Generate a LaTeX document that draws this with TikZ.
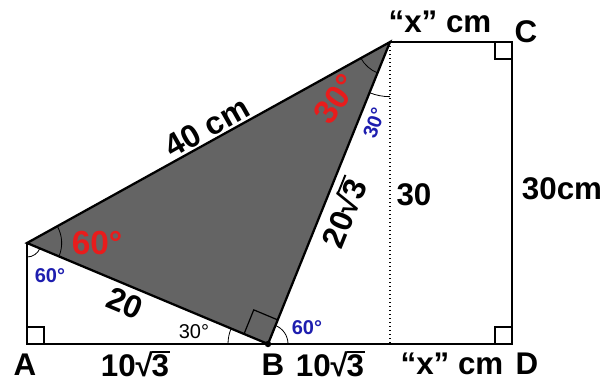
\documentclass[tikz,border=0pt]{standalone}
\usepackage{fontspec}
\setmainfont{Liberation Sans}
\usetikzlibrary{calc,angles}
\definecolor{trig}{RGB}{100,100,100}
\definecolor{lblred}{RGB}{232,28,28}
\definecolor{lblblue}{RGB}{30,30,175}
\newcommand{\sqthree}{√\kern-0.04em\rlap{\rule[0.74em]{0.6em}{0.06em}}3}
\begin{document}
\begin{tikzpicture}[x=0.75pt,y=-0.75pt,
  edge/.style={line width=1.7pt, line join=miter},
  marker/.style={line width=0.9pt},
  arcmark/.style={draw, line width=0.6pt},
  biglbl/.style={font=\bfseries\fontsize{23.5}{23.5}\selectfont, inner sep=0pt},
  rotlbl/.style={font=\bfseries\fontsize{24}{24}\selectfont, inner sep=0pt},
  redlbl/.style={font=\bfseries\fontsize{25}{25}\selectfont, text=lblred, inner sep=0pt},
  bluelbl/.style={font=\bfseries\fontsize{15}{15}\selectfont, text=lblblue, inner sep=0pt},
  smalllbl/.style={font=\fontsize{15}{15}\selectfont, inner sep=0pt}]
\useasboundingbox (0,0) rectangle (604,380);
\coordinate (A) at (27,344);
\coordinate (P) at (27,243);
\coordinate (T) at (390,42);
\coordinate (B) at (268,344);
\coordinate (C) at (512,42);
\coordinate (D) at (512,344);
\coordinate (F) at (390,344);
% shaded triangle
\fill[trig] (P) -- (T) -- (B) -- cycle;
% dotted height
\draw[dotted, line width=1pt] (T) -- (F);
% outline
\draw[edge] (P) -- (A) -- (D) -- (C) -- (T);
\draw[edge] (P) -- (T) -- (B) -- cycle;
% right angle markers
\draw[marker] ($(A)+(0,-17)$) -- ++(17,0) -- ++(0,17);
\draw[marker] ($(C)+(-17,0)$) -- ++(0,17) -- ++(17,0);
\draw[marker] ($(D)+(-17,0)$) -- ++(0,-17) -- ++(17,0);
\coordinate (bp) at ($(B)!19.5pt!(P)$);
\coordinate (bt) at ($(B)!19.5pt!(T)$);
\draw[marker] (bp) -- ($(bp)+(bt)-(B)$) -- (bt);
% angle arcs
\pic[arcmark, angle radius=26pt] {angle = B--P--T};
\pic[arcmark, angle radius=10.5pt] {angle = A--P--B};
\pic[arcmark, angle radius=25pt] {angle = P--T--B};
\pic[arcmark, angle radius=41pt] {angle = B--T--F};
\pic[arcmark, angle radius=30pt] {angle = P--B--A};
\pic[arcmark, angle radius=15pt] {angle = D--B--T};
\fill (B) circle[radius=2.4pt];
% labels
\node[biglbl] (xtop) at (440,22) {“x” cm};
\node[biglbl] (lc) at (526,32) {C};
\node[biglbl] (l30) at (414,195) {30};
\node[biglbl] (l30cm) at (562,189) {30cm};
\node[biglbl] (la) at (25,365) {A};
\node[biglbl] (lab) at (135,364) {10\sqthree};
\node[biglbl] (lb) at (273,365) {B};
\node[biglbl] (lbf) at (330,364) {10\sqthree};
\node[biglbl] (xbot) at (452,364) {“x” cm};
\node[biglbl] (ld) at (527,364) {D};
\node[rotlbl, rotate=29.5] (l40) at (207,127) {40 cm};
\node[rotlbl, rotate=-22.7] (l20) at (125,303) {20};
\node[rotlbl, rotate=68] (l203) at (343,213) {20\sqthree};
\node[redlbl] (r60) at (97,243) {60°};
\node[redlbl, rotate=55] (r30) at (336,99) {30°};
\node[bluelbl] (b60a) at (50,276) {60°};
\node[bluelbl, rotate=70] (b30) at (374,123) {30°};
\node[bluelbl] (b60b) at (307,328) {60°};
\node[smalllbl] (s30) at (194,332) {30°};
\end{tikzpicture}
\end{document}
